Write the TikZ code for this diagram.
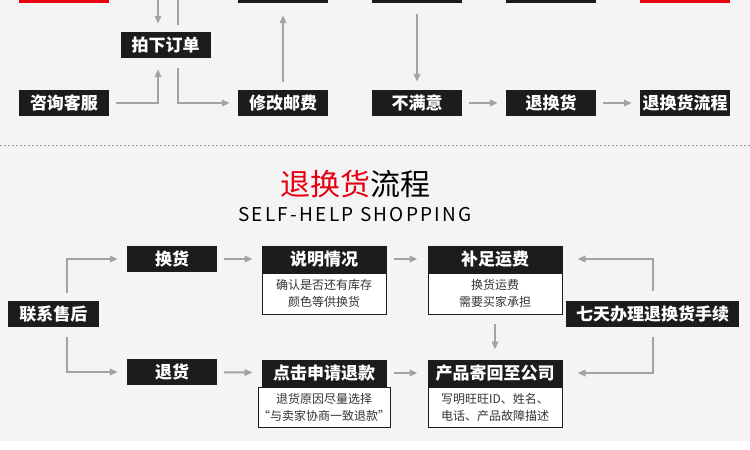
\documentclass[tikz,border=0pt]{standalone}
\usepackage{fontspec}
\setmainfont{Noto Sans CJK SC}
\newfontfamily\spacedfont[LetterSpace=12]{Noto Sans CJK SC}
\usepackage{xcolor}
\usepackage{tikz}
\usetikzlibrary{arrows.meta,positioning,calc}
\definecolor{bggray}{HTML}{F4F4F4}
\definecolor{boxblack}{HTML}{1C1C1C}
\definecolor{linegray}{HTML}{A3A3A3}
\definecolor{markred}{HTML}{E50012}
\definecolor{bodytext}{HTML}{333333}
\definecolor{dashgray}{HTML}{9A9A9A}

\begin{document}
\begin{tikzpicture}[x=1pt, y=-1pt,
stage/.style={fill=boxblack, text=white, font=\fontsize{17}{17}\selectfont\bfseries, minimum width=90pt, minimum height=26pt, inner sep=0pt},
redstage/.style={stage, fill=markred},
header/.style={stage, draw=boxblack, line width=1pt, minimum width=124pt},
detail/.style={draw=boxblack, line width=1pt, fill=white, text=bodytext, font=\fontsize{12}{17}\selectfont, align=center, minimum width=124pt, minimum height=41pt, inner sep=0pt},
flow/.style={-{Triangle[length=8pt,width=6.5pt]}, draw=linegray, line width=2pt, shorten <=7pt, shorten >=8pt},
plain/.style={draw=linegray, line width=2pt}
]
\useasboundingbox (0,0) rectangle (750,450);
\clip (0,0) rectangle (750,450);
\fill[bggray] (0,0) rectangle (750,441);
\fill[white] (0,441) rectangle (750,450);

\node[redstage] (prevleft) at (64,-10) {};
\node[stage] (prevmid) at (283,-10) {};
\node[stage] (prevright) at (417,-10) {};
\node[stage] (prevnext) at (551,-10) {};
\node[redstage] (prevend) at (685,-10) {};
\coordinate (topin) at (158,0);
\coordinate (topout) at (178,0);

\node[stage] (order) at (165.5,45) {拍下订单};
\node[stage] (ask) at (64,103) {咨询客服};
\node[stage] (postage) at (283,103) {修改邮费};
\node[stage] (unhappy) at (417,103) {不满意};
\node[stage] (exchange) at (551,103) {退换货};
\node[stage] (flowbox) at (685,103) {退换货流程};

\draw[flow, shorten <=0pt] (topin) -- (topin |- order.north);
\draw[plain, shorten <=7pt] ([xshift=12.5pt]order.north) -- (topout);
\draw[flow, shorten >=11pt] (ask.east) -| ([xshift=-7.5pt]order.south);
\draw[flow, shorten <=10pt] ([xshift=12.5pt]order.south) |- (postage.west);
\draw[flow, shorten <=8pt, shorten >=12pt] (postage.north) -- (prevmid.south);
\draw[flow, shorten <=11pt] (prevright.south) -- (unhappy.north);
\draw[flow] (unhappy) -- (exchange);
\draw[flow] (exchange) -- (flowbox);

\draw[dashgray, line width=1pt, dash pattern=on 2pt off 2pt] (0,145) -- (750,145);

\node[font=\fontsize{30}{30}\selectfont] (title) at (355,184) {\textcolor{markred}{退换货}流程};
\node[font=\spacedfont\fontsize{19}{19}\selectfont] (subtitle) at (355,215) {SELF-HELP SHOPPING};

\node[stage, minimum width=91pt] (contact) at (53.5,314) {联系售后};
\node[stage] (swap) at (172,259) {换货};
\node[stage] (refund) at (172,372) {退货};
\node[header] (explain) at (324,259) {说明情况};
\node[detail, below=0pt of explain] (explainnote) {确认是否还有库存\\颜色等供换货};
\node[header, minimum width=134pt] (freight) at (495,259) {补足运费};
\node[detail, minimum width=134pt, below=0pt of freight] (freightnote) {换货运费\\需要买家承担};
\node[stage, minimum width=173pt] (sevenday) at (652.5,314) {七天办理退换货手续};
\node[header] (apply) at (324,373) {点击申请退款};
\node[detail, minimum height=40pt, below=0pt of apply] (applynote) {退货原因尽量选择\\“与卖家协商一致退款”};
\node[header, minimum width=134pt] (sendback) at (495,373) {产品寄回至公司};
\node[detail, minimum width=134pt, minimum height=40pt, below=0pt of sendback] (sendbacknote) {写明旺旺ID、姓名、\\电话、产品故障描述};

\draw[flow, shorten <=8pt, shorten >=9pt] ([xshift=13.5pt]contact.north) |- (swap.west);
\draw[flow, shorten <=10pt, shorten >=9pt] ([xshift=13.5pt]contact.south) |- (refund.west);
\draw[flow, shorten >=9pt] (swap) -- (explain);
\draw[flow, shorten >=10pt] (explain) -- (freight);
\draw[flow, shorten <=10pt, shorten >=15pt] (sevenday.north) |- (freight.east);
\draw[flow, shorten <=9pt, shorten >=10pt] (freightnote.south) -- (sendback.north);
\draw[flow, shorten <=10pt, shorten >=15pt] (sevenday.south) |- (sendback.east);
\draw[flow, shorten >=9pt] (refund) -- (apply);
\draw[flow, shorten >=10pt] (apply) -- (sendback);
\end{tikzpicture}
\end{document}
